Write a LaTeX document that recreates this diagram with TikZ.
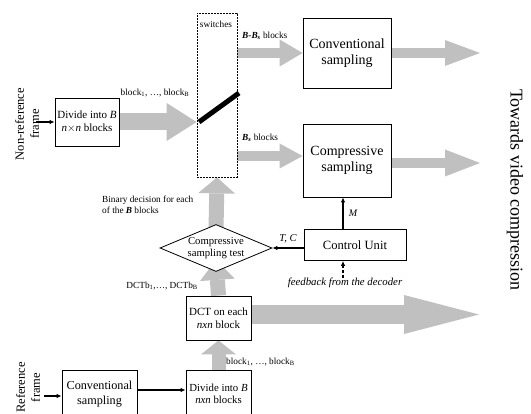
\documentclass[tikz,border=0pt]{standalone}
\usepackage{fontspec}
\setmainfont{Liberation Serif}
\usetikzlibrary{shapes.geometric,arrows.meta,backgrounds}
\definecolor{arrowgray}{HTML}{C0C0C0}

\begin{document}
\begin{tikzpicture}[x=1pt,y=-1pt,
    box/.style={draw, line width=0.8pt, align=center, inner sep=0pt},
    arr/.style={line width=1.2pt, -{Latex[length=5pt,width=4.5pt]}},
    fat/.style args={#1/#2/#3}{draw=arrowgray, line width=#1, -{Triangle[length=#2,width=#3,line width=0pt]}},
    lbl/.style={inner sep=0pt, font=\fontsize{9.3}{11}\selectfont}]
	\useasboundingbox (0,0) rectangle (531,414);
	\clip (0,0) rectangle (531,414);

	% non-reference frame branch
	\node[rotate=90, align=center, font=\fontsize{12.5}{15}\selectfont] (nonref) at (27,124) {Non-reference\\frame};
	\node[box, minimum width=64pt, minimum height=48pt, font=\fontsize{11}{13}\selectfont] (div1) at (87,122) {Divide into \textit{B}\\\textit{n}$\times$\textit{n} blocks};
	\node[draw, line width=0.8pt, dash pattern=on 2pt off 1pt, minimum width=40pt, minimum height=164pt] (sw) at (217,95) {};
	\node[lbl] (swlbl) at (216,24) {switches};
	\node[box, minimum width=88pt, minimum height=70pt, font=\fontsize{14}{16}\selectfont] (conv1) at (347,53) {Conventional\\sampling};
	\node[box, minimum width=88pt, minimum height=73pt, font=\fontsize{14}{16}\selectfont] (comp) at (347,160.5) {Compressive\\sampling};

	% test and control
	\node[box, shape=diamond, aspect=2.4, fill=white, minimum width=112pt, minimum height=47pt, font=\fontsize{10.7}{12}\selectfont] (test) at (216,248) {Compressive\\sampling test};
	\node[box, minimum width=102pt, minimum height=31pt, font=\fontsize{12.6}{15}\selectfont] (ctrl) at (355,245) {Control Unit};
	\node[box, minimum width=65pt, minimum height=44pt, font=\fontsize{11}{13}\selectfont] (dct) at (218.5,318) {DCT on each\\\textit{nxn} block};

	% reference frame branch
	\node[rotate=90, align=center, font=\fontsize{12.5}{15}\selectfont] (ref) at (28,387.5) {Reference\\frame};
	\node[box, minimum width=75pt, minimum height=48pt, font=\fontsize{12.2}{15}\selectfont] (conv2) at (99.5,394) {Conventional\\sampling};
	\node[box, minimum width=65pt, minimum height=48pt, font=\fontsize{10.8}{12}\selectfont] (div2) at (218.5,394) {Divide into \textit{B}\\\textit{nxn} blocks};

	% labels
	\node[lbl] (blk1) at (155,93) {block\textsubscript{1}, \ldots, block\textsubscript{B}};
	\node[lbl, anchor=west] (bbs) at (242,36) {\textbf{\textit{B-B\textsubscript{s}}} blocks};
	\node[lbl, anchor=west] (bs) at (242,138) {\textbf{\textit{B\textsubscript{s}}} blocks};
	\node[lbl, anchor=west, align=left] (bin) at (102,204.5) {Binary decision for each\\of the \textbf{\textit{B}} blocks};
	\node[lbl, anchor=east] (dctb) at (198,286) {DCTb\textsubscript{1},\ldots, DCTb\textsubscript{B}};
	\node[lbl, anchor=west] (blk2) at (226,362) {block\textsubscript{1}, \ldots, block\textsubscript{B}};
	\node[lbl, font=\fontsize{10.5}{12}\selectfont\itshape] (tc) at (288,239) {T, C};
	\node[lbl, font=\fontsize{10}{12}\selectfont\itshape] (m) at (353,213) {M};
	\node[lbl, font=\fontsize{10.8}{12}\selectfont\itshape] (fb) at (345,283) {feedback from the decoder};
	\node[rotate=-90, font=\fontsize{18}{20}\selectfont] (towards) at (515,190) {Towards video compression};

	% thin arrows
	\coordinate (nrin) at (36,122);
	\coordinate (refin) at (44,396);
	\coordinate (cva) at ([yshift=4pt]conv2.east);
	\coordinate (mx) at ([xshift=-12pt]ctrl.north);
	\draw[arr] (nrin) -- (div1.west);
	\draw[arr] (refin) -- (refin -| conv2.west);
	\draw[arr] (cva) -- (cva -| div2.west);
	\draw[arr] (ctrl.west |- test.east) -- (test.east);
	\draw[arr] (mx) -- (mx |- comp.south);
	\draw[arr, dash pattern=on 3pt off 2pt] (fb.north -| mx) -- (mx |- ctrl.south);

	% switch
	\coordinate (swin) at (199,122);
	\coordinate (swout) at (239,93);
	\draw[line width=5pt] (swin) -- (swout);

	% wide grey arrows
	\coordinate (compin) at ([yshift=4.5pt]comp.west);
	\coordinate (out1) at (480,53);
	\coordinate (out2) at (480,163);
	\coordinate (out3) at (479,314.5);
	\begin{scope}[on background layer]
		\draw[fat=17pt/30pt/38pt] (div1.east) -- (div1.east -| sw.west);
		\draw[fat=10.5pt/23pt/27pt] (sw.east |- conv1.west) -- (conv1.west);
		\draw[fat=10pt/23pt/25pt] (compin -| sw.east) -- (compin);
		\draw[fat=10pt/35pt/26pt] (conv1.east) -- (out1);
		\draw[fat=10pt/35pt/27pt] (comp.east |- out2) -- (out2);
		\draw[fat=19pt/75pt/39pt] (dct.east |- out3) -- (out3);
		\draw[fat=14pt/14pt/35pt] (div2.north) -- (dct.south);
		\draw[fat=15pt/20pt/35pt] (dct.north) -- ([yshift=12pt]test.south);
		\draw[fat=15pt/16pt/37pt] ([yshift=-6pt]test.north) -- (sw.south);
	\end{scope}
\end{tikzpicture}
\end{document}
